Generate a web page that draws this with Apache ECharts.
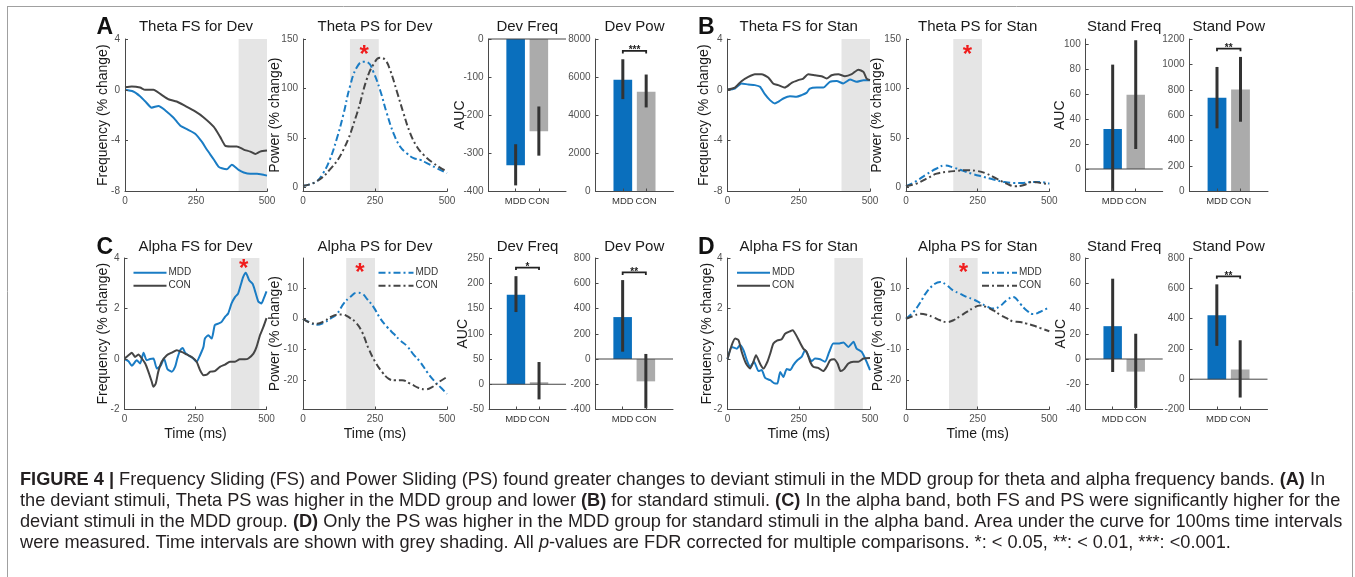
<!DOCTYPE html>
<html><head><meta charset="utf-8">
<script src="https://cdn.jsdelivr.net/npm/echarts@6.0.0/dist/echarts.min.js"></script>
<style>html,body{margin:0;padding:0;background:#fff}#c{width:1355px;height:577px}</style>
</head><body><div id="c"></div><script>
// ---------------- DATA ----------------
const groups = ['MDD', 'CON'];
const timeTicks = [0, 250, 500];

// Theta FS for Dev (A)
const thetaFsDev_mdd_t = [0,29,53,71,94,118,141,171,194,218,247,271,288,312,329,341,359,376,400,418,441,465,500];
const thetaFsDev_mdd_v = [0,-0.13,-0.5,-0.9,-1.4,-1.27,-1.6,-2.2,-2.8,-3.1,-3.45,-4.1,-4.7,-5.46,-6.04,-6.17,-6.25,-5.9,-6.3,-6.5,-6.6,-6.6,-6.75];
const thetaFsDev_con_t = [0,24,53,71,100,129,153,182,212,247,276,312,335,353,371,394,418,441,459,476,500];
const thetaFsDev_con_v = [0.2,0.26,0.18,0,0,-0.4,-0.74,-0.92,-1.27,-1.7,-2.15,-2.9,-3.7,-4.4,-4.46,-4.46,-4.7,-4.86,-5.04,-4.86,-4.78];
// Theta PS for Dev (A)
const thetaPsDev_mdd_t = [0,46,70,93,116,140,163,186,209,227,244,267,291,314,337,360,384,407,430,465,500];
const thetaPsDev_mdd_v = [1.7,6,14.5,28,48,73.5,102,121,127,126,117,99,75,55,41.5,34.7,29.7,28,24.6,19.5,14.5];
const thetaPsDev_con_t = [0,46,93,140,186,221,244,267,285,302,326,349,372,395,419,453,488,500];
const thetaPsDev_con_v = [1.7,6,18,38,73.5,109,124,131,129,119,97,75,55,41.5,33,24.6,18,16];
// Theta FS for Stan (B)
const thetaFsStan_mdd_t = [0,26,49,73,96,114,131,149,166,178,196,219,242,260,277,289,313,336,359,383,406,430,453,477,500];
const thetaFsStan_mdd_v = [0,0.1,0.5,0.42,0.37,0.24,-0.34,-0.81,-1.07,-0.94,-0.68,-0.5,-0.55,-0.42,-0.24,0.1,0.18,0.18,0.63,0.7,0.5,0.81,0.63,0.76,0.76];
const thetaFsStan_con_t = [0,26,49,73,96,119,143,160,178,201,225,248,266,283,307,330,348,365,389,412,436,459,477,488,500];
const thetaFsStan_con_v = [0.03,0.18,0.68,1.02,1.23,1.23,0.97,0.5,0.37,0.18,0.55,0.76,0.89,1.23,1.15,1.07,0.89,1.15,1.23,1.07,1.23,1.59,1.41,0.89,0.76];
// Theta PS for Stan (B)
const thetaPsStan_mdd_t = [0,37,72,107,136,165,200,235,270,305,340,374,409,444,467,500];
const thetaPsStan_mdd_v = [1.3,6.7,13.5,19.2,22.2,20.2,16.8,13.5,10.8,8.1,5.7,4.7,4.7,5.7,5.7,4];
const thetaPsStan_con_t = [0,37,72,107,142,177,212,247,281,316,351,380,409,444,467,500];
const thetaPsStan_con_v = [1.3,4,9,14,15.8,16.8,17.5,16.8,14,9,4,1.3,2.4,5.7,4.7,3.4];
// Alpha FS for Dev (C)
const alphaFsDev_mdd_t = [0,14,26,43,55,67,78,90,102,114,128,139,151,166,178,186,196,205,213,225,242,254,266,278,283,295,307,318,330,342,354,365,377,389,400,409,418,427,439,451,459,471,482,490,500];
const alphaFsDev_mdd_v = [0,-0.09,-0.27,-0.05,-0.18,0.25,-0.05,0,0.02,-0.38,-0.25,0.02,-0.4,-0.5,-0.31,0.02,0.35,0.44,0.25,0.15,0.02,-0.11,0.15,0.48,0.81,0.94,0.81,1.34,1.4,1.47,1.67,1.8,2.2,2.45,2.59,2.92,3.25,3.42,3.12,2.98,2.72,2.28,2.2,2.39,2.68];
const alphaFsDev_con_t = [0,14,26,37,49,61,73,84,96,102,110,119,131,149,166,184,201,219,237,254,266,278,290,302,318,336,354,371,389,406,424,436,454,465,477,489,500];
const alphaFsDev_con_v = [0.02,0.15,0.25,0.08,0.18,0.02,-0.18,-0.5,-0.9,-1.1,-0.97,-0.5,-0.11,0.15,0.25,0.35,0.28,0.18,0.08,-0.11,-0.44,-0.64,-0.62,-0.5,-0.48,-0.31,-0.22,-0.11,-0.11,-0.01,-0.01,0.02,0.21,0.48,0.94,1.27,1.62];
// Alpha PS for Dev (C)
const alphaPsDev_mdd_t = [0,25,49,72,95,118,141,164,188,205,222,245,269,292,315,338,361,384,407,431,454,477,500];
const alphaPsDev_mdd_v = [0,-1.3,-2,-1.3,0,1.6,4.9,7.1,8.5,8.2,6.5,3.8,0,-2.7,-4.9,-7.1,-8.9,-11.7,-14.1,-17.4,-20.1,-22.3,-24.5];
const alphaPsDev_con_t = [0,25,49,72,95,118,135,159,182,205,228,251,275,298,321,344,373,402,425,448,471,500];
const alphaPsDev_con_v = [0,-1.3,-1.6,-0.9,0.5,1.3,1.4,0.5,-1.1,-4.3,-9.8,-14.1,-17.4,-19.6,-20.1,-20.1,-21.2,-22.6,-23,-22.3,-20.7,-19];
// Alpha FS for Stan (D)
const alphaFsStan_mdd_t = [0,15,33,44,56,68,79,93,109,120,132,150,167,175,185,196,208,220,231,245,260,272,283,295,307,325,342,357,371,389,407,424,442,453,471,488,500];
const alphaFsStan_mdd_v = [0,0.48,0.41,0.55,0.35,-0.05,-0.31,-0.11,-0.48,-0.44,-0.75,-0.84,-0.97,-0.97,-0.51,-0.71,-0.4,-0.44,-0.24,-0.05,0.08,0.35,0.15,-0.09,0.02,-0.01,-0.11,0.28,0.61,0.61,0.65,0.48,0.68,0.41,0.28,-0.11,-0.44];
const alphaFsStan_con_t = [0,15,27,39,50,65,79,91,100,114,126,140,150,161,175,190,202,220,229,241,252,266,278,290,301,318,336,348,360,374,386,397,409,424,442,459,477,500];
const alphaFsStan_con_v = [0,0.55,0.81,0.74,0.28,-0.18,-0.38,-0.11,0.15,-0.18,-0.38,-0.11,0.22,0.61,0.74,0.78,1.0,1.1,1.14,0.94,0.7,0.41,0.28,-0.11,-0.31,-0.35,-0.48,-0.31,-0.05,-0.01,-0.18,-0.48,-0.4,-0.18,-0.11,-0.11,0.02,0.04];
// Alpha PS for Stan (D)
const alphaPsStan_mdd_t = [0,26,49,72,101,119,142,165,188,212,235,258,281,305,328,351,374,398,421,444,467,500];
const alphaPsStan_mdd_v = [0,2.2,5.2,8.7,11.4,12,10.9,9.2,8.2,7.1,6.3,5.2,4.1,3.3,4.1,6,7.1,4.9,2.7,1.5,2.2,3.8];
const alphaPsStan_con_t = [0,26,49,72,95,119,142,165,188,212,235,258,281,305,328,351,374,398,421,444,467,500];
const alphaPsStan_con_v = [0,0.9,1.6,1.3,0.5,-0.5,-1.1,-0.5,0.8,2.2,3.5,4.3,3.8,2.7,1.3,0.2,-0.9,-1.1,-1.6,-2.2,-3,-4.1];

// Shaded time windows (ms)
const shadeThetaFsDev = [400, 500], shadeThetaPsDev = [163, 263];
const shadeThetaFsStan = [400, 500], shadeThetaPsStan = [165, 265];
const shadeAlphaFsDev = [375, 475], shadeAlphaPsDev = [150, 250];
const shadeAlphaFsStan = [375, 475], shadeAlphaPsStan = [150, 250];
// Significance stars on time courses [ms, value]
const starThetaPsDev = [212, 140], starThetaPsStan = [214, 140];
const starAlphaFsDev = [420, 3.79], starAlphaPsDev = [198, 16.6], starAlphaPsStan = [200, 16.6];

// AUC bars: [MDD, CON], error bars low/high
const devFreqA = [-331, -242], devFreqA_lo = [-384, -306], devFreqA_hi = [-276, -177];
const devPowA = [5860, 5230], devPowA_lo = [4846, 4410], devPowA_hi = [6937, 6136];
const standFreqB = [32, 59.5], standFreqB_lo = [-18, 16], standFreqB_hi = [83.5, 103];
const standPowB = [737, 803], standPowB_lo = [497, 549], standPowB_hi = [980, 1059];
const devFreqC = [177, 4], devFreqC_lo = [143, -30], devFreqC_hi = [214, 44];
const devPowC = [332, -177], devPowC_lo = [58, -390], devPowC_hi = [625, 40];
const standFreqD = [26, -10], standFreqD_lo = [-10.3, -38.8], standFreqD_hi = [63.6, 20];
const standPowD = [422, 64], standPowD_lo = [220, -121], standPowD_hi = [626, 257];
// Significance brackets [height, label]
const sigDevPowA = [7373, '***'], sigStandPowB = [1124, '**'];
const sigDevFreqC = [231, '*'], sigDevPowC = [686, '**'], sigStandPowD = [679, '**'];

// ---------------- STYLE ----------------
const FF = '"Liberation Sans", Arial, Helvetica, sans-serif';
const C_MDD_LINE = '#1a7cc4', C_CON_LINE = '#454545';
const C_MDD_BAR = '#0a6fbd', C_CON_BAR = '#ababab';
const C_SHADE = '#e5e5e5', C_AXIS = '#4a4a4a', C_TICK = '#505050', C_TEXT = '#1a1a1a';
const DASHDOT = [7, 3, 2, 3];

const grid = [], xAxis = [], yAxis = [], series = [], graphic = [];

function yAxisDef(lim, o) {
  const a = {type: 'value', min: lim[0], max: lim[1], z: 10,
    axisLine: {show: true, onZero: false, lineStyle: {color: C_AXIS, width: 1}},
    axisTick: {show: true, inside: true, length: 3, lineStyle: {color: C_AXIS}},
    axisLabel: {fontSize: 10, color: C_TICK, fontFamily: FF, margin: 5, formatter: v => String(v)},
    splitLine: {show: false}};
  if (o.interval) a.interval = o.interval;
  if (o.ticks) { a.axisTick.customValues = o.ticks; a.axisLabel.customValues = o.ticks; }
  if (o.name) { a.name = o.name; a.nameLocation = 'middle'; a.nameGap = o.nameGap; a.nameMoveOverlap = false;
    a.nameTextStyle = {fontSize: 14, color: C_TEXT, fontFamily: FF}; }
  return a;
}
function addTitle(text, cx, cy) {
  graphic.push({type: 'text', x: cx, y: cy, style: {text, textAlign: 'center', textVerticalAlign: 'middle',
    fontSize: 15, fontFamily: FF, fill: C_TEXT}});
}
function shadeItem(params, api) {
  const cs = params.coordSys;
  const x0 = api.coord([api.value(0), 0])[0], x1 = api.coord([api.value(1), 0])[0];
  return {type: 'rect', shape: {x: x0, y: cs.y, width: x1 - x0, height: cs.height}, style: {fill: C_SHADE}};
}
function starItem(params, api) {
  const p = api.coord([api.value(0), api.value(1)]);
  return {type: 'text', x: p[0], y: p[1] + 6, style: {text: '*', textAlign: 'center', textVerticalAlign: 'middle',
    fontSize: 24, fontWeight: 'bold', fontFamily: FF, fill: '#f01c1c'}};
}
function linePanel(p) {
  const gi = grid.length;
  grid.push({left: p.left, top: p.top, width: p.width, height: p.height});
  const xa = {gridIndex: gi, type: 'value', min: 0, max: 500, interval: 250, z: 10,
    axisLine: {show: true, onZero: false, lineStyle: {color: C_AXIS, width: 1}},
    axisTick: {show: true, inside: true, length: 3, lineStyle: {color: C_AXIS}},
    axisLabel: {fontSize: 10, color: C_TICK, fontFamily: FF, margin: 5, formatter: v => String(v)},
    splitLine: {show: false}};
  if (p.xlabel) { xa.name = p.xlabel; xa.nameLocation = 'middle'; xa.nameGap = 18; xa.nameMoveOverlap = false;
    xa.nameTextStyle = {fontSize: 14, color: C_TEXT, fontFamily: FF}; }
  xAxis.push(xa);
  const ya = yAxisDef(p.ylim, p.y); ya.gridIndex = gi; yAxis.push(ya);
  series.push({type: 'custom', xAxisIndex: gi, yAxisIndex: gi, z: 1, silent: true,
    data: [[p.shade[0], p.shade[1], 0]], encode: {x: [0, 1], y: 2}, renderItem: shadeItem});
  p.curves.forEach(c => series.push({type: 'line', xAxisIndex: gi, yAxisIndex: gi, z: 3, silent: true,
    showSymbol: false, smooth: c.dash ? 0.45 : 0.2,
    data: c.t.map((t, i) => [t, c.v[i]]),
    lineStyle: {color: c.color, width: 2, type: c.dash ? DASHDOT : 'solid'}}));
  if (p.star) series.push({type: 'custom', xAxisIndex: gi, yAxisIndex: gi, z: 6, silent: true,
    data: [p.star], renderItem: starItem});
  addTitle(p.title, p.left + p.width / 2, p.titleY);
  if (p.legend) {
    const L = p.legend;
    [[C_MDD_LINE, groups[0], 0], [C_CON_LINE, groups[1], 13]].forEach(([col, name, dy]) => {
      graphic.push({type: 'line', shape: {x1: L.x, y1: L.y + dy, x2: L.x + L.w, y2: L.y + dy},
        style: {stroke: col, lineWidth: 2, lineDash: p.dash ? DASHDOT : null}});
      graphic.push({type: 'text', x: L.x + L.w + 2, y: L.y + dy, style: {text: name, textAlign: 'left',
        textVerticalAlign: 'middle', fontSize: 10, fontFamily: FF, fill: '#333'}});
    });
  }
}
function barItem(params, api) {
  const x = api.value(0), v = api.value(1);
  const p0 = api.coord([x - 0.4, 0]), p1 = api.coord([x + 0.4, v]);
  return {type: 'rect', shape: {x: p0[0], y: Math.min(p0[1], p1[1]), width: p1[0] - p0[0], height: Math.abs(p1[1] - p0[1])},
    style: {fill: params.dataIndex === 0 ? C_MDD_BAR : C_CON_BAR}};
}
function errItem(params, api) {
  const x = api.value(0);
  const a = api.coord([x, api.value(1)]), b = api.coord([x, api.value(2)]);
  return {type: 'line', shape: {x1: a[0], y1: a[1], x2: b[0], y2: b[1]}, style: {stroke: '#333', lineWidth: 3}};
}
function baseItem(params, api) {
  const cs = params.coordSys, y = api.coord([0, api.value(1)])[1];
  return {type: 'line', shape: {x1: cs.x, y1: y, x2: cs.x + cs.width, y2: y}, style: {stroke: '#444', lineWidth: 1}};
}
function bracketItem(label) {
  return function (params, api) {
    const a = api.coord([api.value(0), api.value(2)]), b = api.coord([api.value(1), api.value(2)]);
    return {type: 'group', children: [
      {type: 'polyline', shape: {points: [[a[0], a[1] + 2.5], [a[0], a[1]], [b[0], b[1]], [b[0], b[1] + 2.5]]},
        style: {stroke: '#222', lineWidth: 1.8, fill: null}},
      {type: 'text', x: (a[0] + b[0]) / 2, y: a[1] - 0.5, style: {text: label, textAlign: 'center',
        textVerticalAlign: 'middle', fontSize: 10, fontWeight: 'bold', fontFamily: FF, fill: '#222'}}]};
  };
}
function barPanel(p) {
  const gi = grid.length;
  grid.push({left: p.left, top: p.top, width: p.width, height: p.height});
  xAxis.push({gridIndex: gi, type: 'value', min: p.xlim[0], max: p.xlim[1], z: 10,
    axisLine: {show: true, onZero: false, lineStyle: {color: C_AXIS, width: 1}},
    axisTick: {show: true, inside: true, length: 3, customValues: [1, 2], lineStyle: {color: C_AXIS}},
    axisLabel: {fontSize: 9.5, color: '#333', fontFamily: FF, margin: 5, customValues: [1, 2],
      formatter: v => groups[Math.round(v) - 1] || ''},
    splitLine: {show: false}});
  const ya = yAxisDef(p.ylim, p.y); ya.gridIndex = gi; yAxis.push(ya);
  series.push({type: 'custom', xAxisIndex: gi, yAxisIndex: gi, z: 2, silent: true,
    data: p.vals.map((v, i) => [i + 1, v]), renderItem: barItem});
  if (p.ylim[0] < 0) series.push({type: 'custom', xAxisIndex: gi, yAxisIndex: gi, z: 3, silent: true,
    data: [[1, 0]], renderItem: baseItem});
  series.push({type: 'custom', xAxisIndex: gi, yAxisIndex: gi, z: 4, silent: true,
    data: p.vals.map((v, i) => [i + 1, p.lo[i], p.hi[i]]), encode: {x: 0, y: [1, 2]}, renderItem: errItem});
  if (p.sig) series.push({type: 'custom', xAxisIndex: gi, yAxisIndex: gi, z: 5, silent: true,
    data: [[1, 2, p.sig[0]]], encode: {x: [0, 1], y: 2}, renderItem: bracketItem(p.sig[1])});
  addTitle(p.title, p.left + p.width / 2, p.titleY);
}

// ---------------- LAYOUT ----------------
const R1 = {top: 39, height: 152.5, titleY: 27};
const R2 = {top: 258, height: 151.5, titleY: 247};
const BX = [-0.17, 3.17];

linePanel({left: 125, width: 142, ...R1, title: 'Theta FS for Dev', ylim: [-8, 4],
  y: {interval: 4, name: 'Frequency (% change)', nameGap: 14.7}, shade: shadeThetaFsDev,
  curves: [{t: thetaFsDev_mdd_t, v: thetaFsDev_mdd_v, color: C_MDD_LINE}, {t: thetaFsDev_con_t, v: thetaFsDev_con_v, color: C_CON_LINE}]});
linePanel({left: 303, width: 144, ...R1, title: 'Theta PS for Dev', ylim: [-4, 150],
  y: {ticks: [0, 50, 100, 150], name: 'Power (% change)', nameGap: 21.3}, shade: shadeThetaPsDev, star: starThetaPsDev,
  curves: [{t: thetaPsDev_mdd_t, v: thetaPsDev_mdd_v, color: C_MDD_LINE, dash: 1}, {t: thetaPsDev_con_t, v: thetaPsDev_con_v, color: C_CON_LINE, dash: 1}]});
barPanel({left: 488.5, width: 77.5, ...R1, title: 'Dev Freq', xlim: BX, ylim: [-400, 0],
  y: {interval: 100, name: 'AUC', nameGap: 21.3}, vals: devFreqA, lo: devFreqA_lo, hi: devFreqA_hi});
barPanel({left: 595.5, width: 78, ...R1, title: 'Dev Pow', xlim: BX, ylim: [0, 8000],
  y: {interval: 2000}, vals: devPowA, lo: devPowA_lo, hi: devPowA_hi, sig: sigDevPowA});
linePanel({left: 727.5, width: 142.5, ...R1, title: 'Theta FS for Stan', ylim: [-8, 4],
  y: {interval: 4, name: 'Frequency (% change)', nameGap: 16.2}, shade: shadeThetaFsStan,
  curves: [{t: thetaFsStan_mdd_t, v: thetaFsStan_mdd_v, color: C_MDD_LINE}, {t: thetaFsStan_con_t, v: thetaFsStan_con_v, color: C_CON_LINE}]});
linePanel({left: 906, width: 143.3, ...R1, title: 'Theta PS for Stan', ylim: [-4, 150],
  y: {ticks: [0, 50, 100, 150], name: 'Power (% change)', nameGap: 22}, shade: shadeThetaPsStan, star: starThetaPsStan,
  curves: [{t: thetaPsStan_mdd_t, v: thetaPsStan_mdd_v, color: C_MDD_LINE, dash: 1}, {t: thetaPsStan_con_t, v: thetaPsStan_con_v, color: C_CON_LINE, dash: 1}]});
barPanel({left: 1085.7, width: 77, ...R1, title: 'Stand Freq', xlim: BX, ylim: [-18, 104],
  y: {ticks: [0, 20, 40, 60, 80, 100], name: 'AUC', nameGap: 18.7}, vals: standFreqB, lo: standFreqB_lo, hi: standFreqB_hi});
barPanel({left: 1189.5, width: 78.5, ...R1, title: 'Stand Pow', xlim: BX, ylim: [0, 1200],
  y: {interval: 200}, vals: standPowB, lo: standPowB_lo, hi: standPowB_hi, sig: sigStandPowB});

linePanel({left: 124.5, width: 142, ...R2, title: 'Alpha FS for Dev', ylim: [-2, 4], xlabel: 'Time (ms)',
  y: {interval: 2, name: 'Frequency (% change)', nameGap: 14}, shade: shadeAlphaFsDev, star: starAlphaFsDev,
  legend: {x: 133.5, y: 272.7, w: 33},
  curves: [{t: alphaFsDev_mdd_t, v: alphaFsDev_mdd_v, color: C_MDD_LINE}, {t: alphaFsDev_con_t, v: alphaFsDev_con_v, color: C_CON_LINE}]});
linePanel({left: 303, width: 144, ...R2, title: 'Alpha PS for Dev', ylim: [-29.6, 19.8], xlabel: 'Time (ms)',
  y: {ticks: [-20, -10, 0, 10], name: 'Power (% change)', nameGap: 20.7}, shade: shadeAlphaPsDev, star: starAlphaPsDev,
  legend: {x: 378.5, y: 272.7, w: 35}, dash: 1,
  curves: [{t: alphaPsDev_mdd_t, v: alphaPsDev_mdd_v, color: C_MDD_LINE, dash: 1}, {t: alphaPsDev_con_t, v: alphaPsDev_con_v, color: C_CON_LINE, dash: 1}]});
barPanel({left: 489, width: 77, ...R2, title: 'Dev Freq', xlim: BX, ylim: [-50, 250],
  y: {interval: 50, name: 'AUC', nameGap: 19.3}, vals: devFreqC, lo: devFreqC_lo, hi: devFreqC_hi, sig: sigDevFreqC});
barPanel({left: 595.5, width: 77.5, ...R2, title: 'Dev Pow', xlim: BX, ylim: [-400, 800],
  y: {interval: 200}, vals: devPowC, lo: devPowC_lo, hi: devPowC_hi, sig: sigDevPowC});
linePanel({left: 727.5, width: 142.5, ...R2, title: 'Alpha FS for Stan', ylim: [-2, 4], xlabel: 'Time (ms)',
  y: {interval: 2, name: 'Frequency (% change)', nameGap: 13.6}, shade: shadeAlphaFsStan,
  legend: {x: 737, y: 272.7, w: 33},
  curves: [{t: alphaFsStan_mdd_t, v: alphaFsStan_mdd_v, color: C_MDD_LINE}, {t: alphaFsStan_con_t, v: alphaFsStan_con_v, color: C_CON_LINE}]});
linePanel({left: 906, width: 143.3, ...R2, title: 'Alpha PS for Stan', ylim: [-29.6, 19.8], xlabel: 'Time (ms)',
  y: {ticks: [-20, -10, 0, 10], name: 'Power (% change)', nameGap: 20.7}, shade: shadeAlphaPsStan, star: starAlphaPsStan,
  legend: {x: 982, y: 272.7, w: 35}, dash: 1,
  curves: [{t: alphaPsStan_mdd_t, v: alphaPsStan_mdd_v, color: C_MDD_LINE, dash: 1}, {t: alphaPsStan_con_t, v: alphaPsStan_con_v, color: C_CON_LINE, dash: 1}]});
barPanel({left: 1085.7, width: 77, ...R2, title: 'Stand Freq', xlim: BX, ylim: [-40, 80],
  y: {interval: 20, name: 'AUC', nameGap: 18}, vals: standFreqD, lo: standFreqD_lo, hi: standFreqD_hi});
barPanel({left: 1189.5, width: 78, ...R2, title: 'Stand Pow', xlim: BX, ylim: [-200, 800],
  y: {interval: 200}, vals: standPowD, lo: standPowD_lo, hi: standPowD_hi, sig: sigStandPowD});

// Panel letters
[['A', 96.5, 28], ['B', 698, 28], ['C', 96.5, 247.5], ['D', 698, 247.5]].forEach(([t, x, y]) =>
  graphic.push({type: 'text', x, y, style: {text: t, textAlign: 'left', textVerticalAlign: 'middle',
    fontSize: 23, fontWeight: 'bold', fontFamily: FF, fill: '#111'}}));

// Frame
[[7, 6.5, 1353, 6.5], [7.5, 6, 7.5, 577], [1352.5, 6, 1352.5, 577]].forEach(([x1, y1, x2, y2]) =>
  graphic.push({type: 'line', shape: {x1, y1, x2, y2}, style: {stroke: '#a0a0a0', lineWidth: 1}}));

// Caption
const captionLines = [
  '{b|FIGURE 4 |} Frequency Sliding (FS) and Power Sliding (PS) found greater changes to deviant stimuli in the MDD group for theta and alpha frequency bands. {b|(A)} In',
  'the deviant stimuli, Theta PS was higher in the MDD group and lower {b|(B)} for standard stimuli. {b|(C)} In the alpha band, both FS and PS were significantly higher for the',
  'deviant stimuli in the MDD group. {b|(D)} Only the PS was higher in the MDD group for standard stimuli in the alpha band. Area under the curve for 100ms time intervals',
  'were measured. Time intervals are shown with grey shading. All {i|p}-values are FDR corrected for multiple comparisons. *: < 0.05, **: < 0.01, ***: <0.001.'
];
const CAP_FS = 18.2;
captionLines.forEach((t, i) => graphic.push({type: 'text', x: 20, y: 480 + i * 21, style: {text: t,
  textAlign: 'left', textVerticalAlign: 'middle', fontSize: CAP_FS, fontFamily: FF, fill: '#231f20',
  rich: {b: {fontWeight: 'bold', fontSize: CAP_FS, fontFamily: FF, fill: '#231f20'},
         i: {fontStyle: 'italic', fontSize: CAP_FS, fontFamily: FF, fill: '#231f20'}}}}));

const chart = echarts.init(document.getElementById('c'), null, {renderer: 'canvas'});
chart.setOption({backgroundColor: '#fff', animation: false, grid, xAxis, yAxis, series, graphic});
</script></body></html>
